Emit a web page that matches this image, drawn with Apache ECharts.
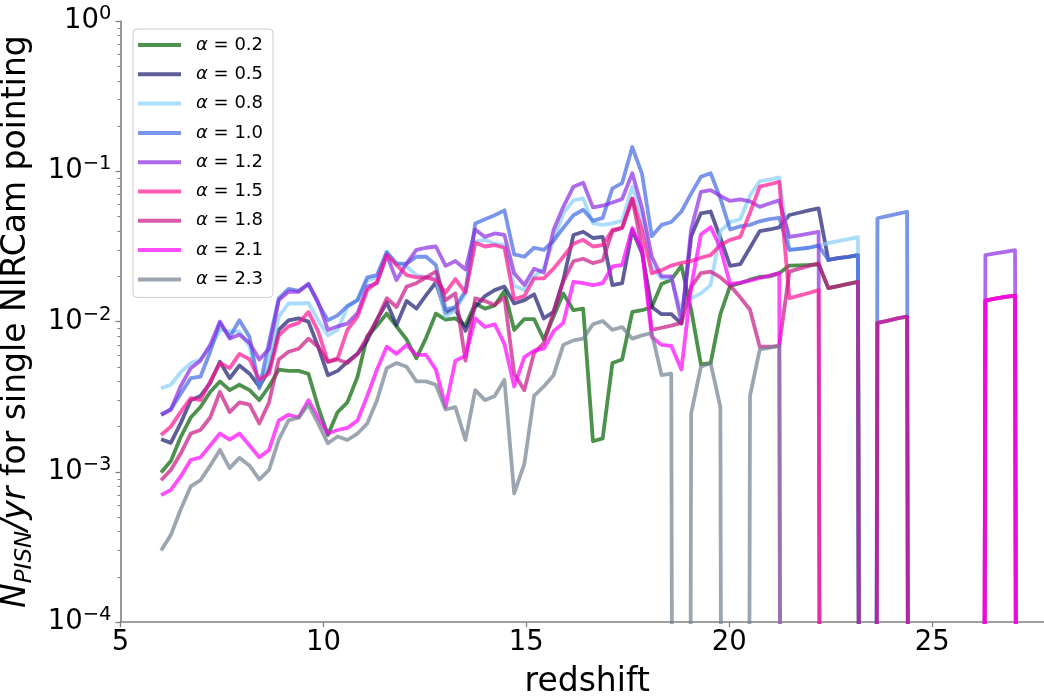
<!DOCTYPE html>
<html>
<head>
<meta charset="utf-8">
<script src="https://cdn.jsdelivr.net/npm/echarts@6/dist/echarts.min.js"></script>
<style>
html, body { margin: 0; padding: 0; background: #ffffff; }
#chart { width: 1044px; height: 696px; }
</style>
</head>
<body>
<div id="chart"></div>
<script>
// Redshift bins shared by every curve
const redshift = [
  6.00, 6.24, 6.48, 6.73, 6.97, 7.21, 7.45, 7.69, 7.93, 8.18,
  8.42, 8.66, 8.90, 9.14, 9.39, 9.63, 9.87, 10.11, 10.35, 10.59,
  10.84, 11.08, 11.32, 11.56, 11.80, 12.05, 12.29, 12.53, 12.77, 13.01,
  13.25, 13.50, 13.74, 13.98, 14.22, 14.46, 14.70, 14.95, 15.19, 15.43,
  15.67, 15.91, 16.16, 16.40, 16.64, 16.88, 17.12, 17.36, 17.61, 17.85,
  18.09, 18.33, 18.57, 18.82, 19.06, 19.30, 19.54, 19.78, 20.02, 20.27,
  20.51, 20.75, 20.99, 21.23, 21.48, 21.72, 21.96, 22.20, 22.44, 22.68,
  22.93, 23.17, 23.41, 23.65, 23.89, 24.14, 24.38, 24.62, 24.86, 25.10,
  25.34, 25.59, 25.83, 26.07, 26.31, 26.55, 26.80, 27.04, 27.28
];

// PISN rate per year for a single NIRCam pointing, one array per IMF slope alpha
const rate_a02 = [
  .00099,.00118,.0017,.0023,.0027,.0034,.0040,.0035,.0038,.0035,
  .0030,.0037,.0048,.0047,.0047,.0045,.0027,.00176,.0025,.0029,
  .0043,.0080,.0094,.0113,.0093,.0076,.0057,.0078,.0113,.0103,
  .0105,.0094,.0132,.0122,.0128,.0160,.0088,.0104,.0104,.0076,
  .0108,.0154,.0119,.0122,.0016,.00167,.0053,.0056,.0116,.0119,
  .0125,.0178,.0190,.0235,.0120,.0052,.0053,.0112,.0173,.0180,
  .0190,.0198,.0200,.0210,.0236,.0237,.0238,.0240,.0167,.0172,
  .0178,.0184,0,0,0,0,0,0,0,0,
  0,0,0,0,0,0,0,0,0
];
const rate_a05 = [
  .00165,.00156,.0021,.0030,.0032,.0039,.0054,.0042,.0051,.0045,
  .0037,.0048,.0088,.0102,.0105,.0100,.0068,.0044,.0047,.0054,
  .0061,.0075,.0103,.0134,.0095,.0137,.0122,.0150,.0182,.0114,
  .0122,.0087,.0125,.0148,.0162,.0171,.0132,.0139,.0152,.0105,
  .0116,.0189,.0377,.0396,.0360,.0366,.0175,.0180,.0407,.0285,
  .0125,.0112,.0112,.0097,.0370,.0525,.0540,.0360,.0235,.0241,
  .0310,.0400,.0410,.0424,.0512,.0530,.0550,.0567,.0257,.0264,
  .0270,.0277,0,0,0,0,0,0,0,0,
  0,0,0,0,0,0,0,0,0
];
const rate_a08 = [
  .0036,.0038,.0046,.0053,.0056,.0068,.0088,.0086,.0086,.0068,
  .0037,.0056,.0108,.0132,.0132,.0133,.0102,.0081,.0088,.0125,
  .0139,.0189,.0197,.0290,.0244,.0233,.0204,.0197,.0194,.0108,
  .0119,.0154,.0340,.0350,.0330,.0323,.0173,.0162,.0200,.0225,
  .0350,.0525,.0640,.0660,.0450,.0440,.0450,.0470,.0790,.0500,
  .0233,.0194,.0197,.0114,.0143,.0154,.0175,.0400,.0460,.0480,
  .0690,.0860,.0880,.0910,.0300,.0305,.0310,.0320,.0333,.0343,
  .0354,.0365,0,0,0,0,0,0,0,0,
  0,0,0,0,0,0,0,0,0
];
const rate_a10 = [
  .0024,.0026,.0033,.0042,.0043,.0063,.0098,.0079,.0102,.0079,
  .0036,.0073,.0143,.0165,.0160,.0178,.0132,.0102,.0110,.0127,
  .0139,.0197,.0204,.0290,.0243,.0243,.0270,.0270,.0238,.0120,
  .0125,.0160,.0450,.0480,.0510,.0550,.0280,.0270,.0310,.0300,
  .0345,.0420,.0510,.0555,.0468,.0490,.0770,.0835,.1450,.0960,
  .0370,.0440,.0460,.0540,.0710,.0920,.0970,.0660,.0410,.0430,
  .0440,.0465,.0480,.0490,.0300,.0305,.0310,.0320,.0257,.0264,
  .0270,.0277,0,.0487,.0504,.0521,.0538,0,0,0,
  0,0,0,0,0,0,0,0,0
];
const rate_a12 = [
  .0024,.0026,.0037,.0049,.0055,.0070,.0100,.0077,.0082,.0072,
  .0056,.0066,.0139,.0158,.0158,.0178,.0135,.0088,.0093,.0097,
  .0114,.0171,.0180,.0277,.0189,.0244,.0300,.0310,.0316,.0235,
  .0253,.0222,.0410,.0366,.0386,.0377,.0210,.0175,.0225,.0212,
  .0407,.0580,.0790,.0840,.0575,.0590,.0620,.0655,.0970,.0570,
  .0270,.0200,.0200,.0100,.0410,.0730,.0750,.0685,.0635,.0650,
  .0630,.0580,.0610,.0640,.0366,.0375,.0385,.0396,0,0,
  0,0,0,.0098,.0101,.0105,.0108,0,0,0,
  0,0,0,0,.0277,.0284,.0291,.0299,0
];
const rate_a15 = [
  .00176,.0020,.0025,.0031,.0030,.0040,.0053,.0049,.0061,.0056,
  .0041,.0045,.0081,.0093,.0098,.0116,.0086,.0054,.0057,.0088,
  .0108,.0162,.0184,.0277,.0238,.0204,.0197,.0197,.0189,.0156,
  .0192,.0156,.0335,.0316,.0323,.0310,.0141,.0148,.0194,.0194,
  .0225,.0270,.0330,.0350,.0316,.0323,.0407,.0420,.0660,.0407,
  .0210,.0220,.0236,.0246,.0253,.0266,.0277,.0323,.0350,.0366,
  .0530,.0790,.0820,.0850,.0143,.0149,.0155,.0162,0,0,
  0,0,0,0,0,0,0,0,0,0,
  0,0,0,0,.0138,.0142,.0146,.0149,0
];
const rate_a18 = [
  .00088,.00103,.00132,.0018,.0019,.0023,.0034,.0025,.0029,.0028,
  .0021,.0029,.0056,.0063,.0066,.0077,.0068,.0054,.0056,.0053,
  .0061,.0079,.0103,.0143,.0125,.0171,.0180,.0197,.0215,.0139,
  .0154,.0055,.0143,.0137,.0129,.0145,.0045,.0035,.0062,.0072,
  .0116,.0185,.0252,.0262,.0245,.0255,.0400,.0420,.0655,.0310,
  .0088,.0091,.0094,.0098,.0170,.0210,.0215,.0197,.0173,.0145,
  .0120,.0068,.0068,.0069,.0215,.0225,.0235,.0244,.0167,.0172,
  .0178,.0184,0,.0098,.0101,.0105,.0108,0,0,0,
  0,0,0,0,.0138,.0142,.0146,.0149,0
];
const rate_a21 = [
  .00070,.00076,.00093,.0012,.00125,.0015,.0018,.00164,.0018,.0015,
  .00125,.0014,.0022,.0024,.0023,.0030,.0023,.0018,.0019,.00196,
  .0022,.0032,.0048,.0068,.0061,.0070,.0060,.0060,.0048,.0027,
  .0055,.0059,.0105,.0092,.0096,.0071,.0037,.0058,.0064,.0066,
  .0086,.0098,.0184,.0180,.0175,.0180,.0233,.0238,.0420,.0300,
  .0079,.0070,.0069,.0048,.0170,.0380,.0425,.0310,.0178,.0182,
  .0187,.0195,.0202,.0210,0,0,0,0,0,0,
  0,0,0,0,0,0,0,0,0,0,
  0,0,0,0,.0138,.0142,.0146,.0149,0
];
const rate_a23 = [
  .00030,.00038,.00056,.00080,.00088,.0011,.0014,.00106,.00124,.0011,
  .00089,.00103,.00164,.0022,.0023,.0028,.0021,.00155,.00172,.00163,
  .0018,.0021,.0030,.0049,.0053,.0050,.0040,.0040,.0038,.0026,
  .0027,.00163,.0035,.0030,.0032,.0041,.00072,.00113,.0032,.0037,
  .0044,.0070,.0075,.0077,.0096,.0101,.0088,.0092,.0077,.0081,
  .0084,.0044,.0045,0,.00245,.0050,.0053,.0027,0,0,
  .0032,.0065,.0067,.0069,0,0,0,0,0,0,
  0,0,0,0,0,0,0,0,0,0,
  0,0,0,0,0,0,0,0,0
];

const alphaValues = ['0.2', '0.5', '0.8', '1.0', '1.2', '1.5', '1.8', '2.1', '2.3'];
const rates = [rate_a02, rate_a05, rate_a08, rate_a10, rate_a12, rate_a15, rate_a18, rate_a21, rate_a23];

// Line colours (drawn at 70% opacity) and the same colours flattened on white for the legend keys
const lineColors = ['#006400', '#191970', '#87cefa', '#4169e1', '#8a2be2', '#ff1493', '#c71585', '#ff00ff', '#708090'];
const keyColors  = ['#4d934d', '#5e5e9b', '#abddfc', '#7a96ea', '#ad6beb', '#ff5bb3', '#d85baa', '#ff4dff', '#9ba6b1'];

const xTickStep = 5;
const yDecades = [-4, -3, -2, -1, 0];

// Minor ticks of the log axis at 2..9 x 10^k
const minorTicks = [];
for (let k = yDecades[0]; k < yDecades[yDecades.length - 1]; k++) {
  for (let m = 2; m <= 9; m++) minorTicks.push(m * Math.pow(10, k));
}

const FONT = 'DejaVu Sans';
const AXIS_GREY = '#808080';
// A bin with no events has no place on a log axis: send it far below the frame
const OFF_AXIS = 1e-30;

const series = rates.map((vals, s) => ({
  name: 'α = ' + alphaValues[s],
  type: 'line',
  data: redshift.map((z, i) => [z, vals[i] > 0 ? vals[i] : OFF_AXIS]),
  symbol: 'none',
  showSymbol: false,
  clip: true,
  animation: false,
  silent: true,
  lineStyle: { color: lineColors[s], width: 3.8, opacity: 0.7, join: 'round', cap: 'butt' },
  itemStyle: { color: lineColors[s] },
  emphasis: { disabled: true }
}));

const chart = echarts.init(document.getElementById('chart'), null, { renderer: 'canvas' });

chart.setOption({
  animation: false,
  backgroundColor: '#ffffff',
  textStyle: { fontFamily: FONT },
  grid: { left: 120.5, right: -10, top: 21, bottom: 73.8, containLabel: false, outerBoundsMode: 'none' },
  legend: {
    orient: 'vertical',
    left: 133,
    top: 29,
    padding: [6, 10, 8, 5],
    itemGap: 9.3,
    itemWidth: 43,
    itemHeight: 4,
    icon: 'rect',
    selectedMode: false,
    backgroundColor: 'rgba(255,255,255,0.8)',
    borderColor: '#cccccc',
    borderWidth: 1,
    borderRadius: 4,
    data: series.map((s, i) => ({ name: s.name, itemStyle: { color: keyColors[i], opacity: 1 } })),
    formatter: name => '{a|α}' + name.slice(1),
    textStyle: {
      fontFamily: FONT, fontSize: 18, color: '#000', lineHeight: 20,
      rich: { a: { fontFamily: FONT, fontSize: 18, fontStyle: 'italic', color: '#000', padding: [0, 0, 0, 10] } }
    }
  },
  xAxis: {
    type: 'value',
    min: 5,
    max: 28,
    interval: xTickStep,
    axisLine: { show: true, onZero: false, lineStyle: { color: AXIS_GREY, width: 1.6 } },
    axisTick: { show: true, length: 5, lineStyle: { color: AXIS_GREY, width: 1.3 } },
    axisLabel: { fontFamily: FONT, fontSize: 27.5, color: '#000', margin: 7, showMaxLabel: false },
    splitLine: { show: false },
    name: 'redshift',
    nameLocation: 'middle',
    nameGap: 31,
    nameTextStyle: { fontFamily: FONT, fontSize: 33, color: '#000', lineHeight: 40 }
  },
  yAxis: [
    {
      type: 'log',
      logBase: 10,
      min: Math.pow(10, yDecades[0]),
      max: Math.pow(10, yDecades[yDecades.length - 1]),
      axisLine: { show: true, lineStyle: { color: AXIS_GREY, width: 1.6 } },
      axisTick: { show: true, length: 5, lineStyle: { color: AXIS_GREY, width: 1.3 } },
      minorTick: { show: false },
      splitLine: { show: false },
      axisLabel: {
        margin: 9,
        formatter: v => {
          const e = Math.round(Math.log10(v));
          return '{b|10}{s|' + (e < 0 ? '\u2212' + (-e) : String(e)) + '}';
        },
        rich: {
          b: { fontFamily: FONT, fontSize: 27.5, color: '#000', lineHeight: 34 },
          s: { fontFamily: FONT, fontSize: 19.5, color: '#000', lineHeight: 16, verticalAlign: 'top' }
        }
      },
      name: '{n|N}{s|PISN}{n|/yr} for single NIRCam pointing',
      nameLocation: 'middle',
      nameGap: 64,
      nameRotate: 90,
      nameTextStyle: {
        fontFamily: FONT, fontSize: 33, color: '#000', lineHeight: 40,
        rich: {
          n: { fontFamily: FONT, fontSize: 33, fontStyle: 'italic', color: '#000', lineHeight: 40 },
          s: { fontFamily: FONT, fontSize: 23, fontStyle: 'italic', color: '#000', lineHeight: 26, verticalAlign: 'bottom' }
        }
      }
    },
    {
      type: 'log',
      logBase: 10,
      min: Math.pow(10, yDecades[0]),
      max: Math.pow(10, yDecades[yDecades.length - 1]),
      position: 'left',
      axisLine: { show: false },
      axisLabel: { show: false },
      splitLine: { show: false },
      axisTick: { show: true, length: 3, lineStyle: { color: AXIS_GREY, width: 1 }, customValues: minorTicks }
    }
  ],
  series: series
});
</script>
</body>
</html>
